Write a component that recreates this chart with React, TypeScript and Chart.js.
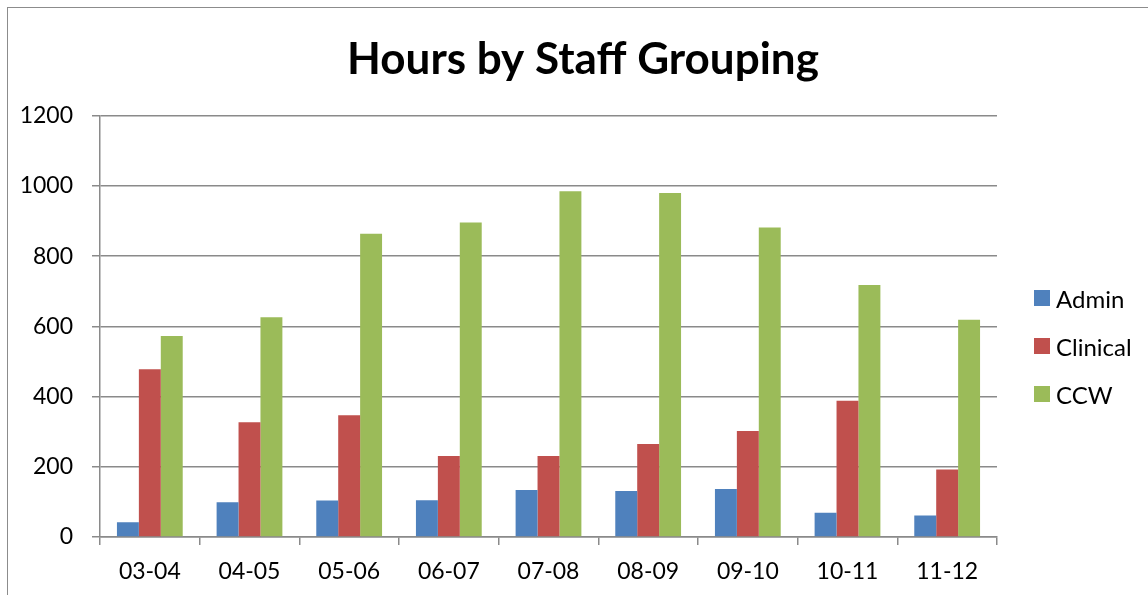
import React, { useEffect, useRef } from "react";
import { Chart, registerables } from "chart.js";

Chart.register(...registerables);

const categories = ["03-04", "04-05", "05-06", "06-07", "07-08", "08-09", "09-10", "10-11", "11-12"];
const adminValues = [42, 99, 104, 105, 134, 131, 137, 69, 61];
const clinicalValues = [478, 327, 347, 231, 231, 265, 302, 388, 192];
const ccwValues = [573, 626, 864, 896, 985, 980, 882, 718, 619];
const seriesNames = ["Admin", "Clinical", "CCW"];
const seriesColors = ["#4F81BD", "#C0504D", "#9BBB59"];
const yTicks = [0, 200, 400, 600, 800, 1000, 1200];

const FONT = "Lato, 'Noto Sans', sans-serif";

export default function App() {
  const ref = useRef<HTMLCanvasElement | null>(null);

  useEffect(() => {
    if (!ref.current) return;
    const values = [adminValues, clinicalValues, ccwValues];
    const chart = new Chart(ref.current, {
      type: "bar",
      data: {
        labels: categories,
        datasets: seriesNames.map((name, i) => ({
          label: name,
          data: values[i],
          backgroundColor: seriesColors[i],
          borderWidth: 0,
          categoryPercentage: 0.66,
          barPercentage: 1.0,
        })),
      },
      options: {
        animation: false,
        responsive: false,
        devicePixelRatio: 1,
        layout: { padding: { left: 10, right: 0, top: 0, bottom: 0 } },
        plugins: {
          legend: { display: false },
          tooltip: { enabled: false },
          title: {
            display: true,
            text: "Hours by Staff Grouping",
            color: "#000",
            font: { family: FONT, size: 44, weight: "bold" },
            padding: { top: 25, bottom: 30 },
          },
        },
        scales: {
          x: {
            afterFit: (s: any) => {
              s.height = 58;
            },
            grid: {
              display: true,
              drawOnChartArea: false,
              drawTicks: true,
              tickLength: 8,
              color: "#8a8a8a",
              lineWidth: 1.5,
            },
            border: { display: true, color: "#8a8a8a", width: 1.5 },
            ticks: {
              color: "#000",
              font: { family: FONT, size: 23 },
              padding: 13,
              maxRotation: 0,
            },
          },
          y: {
            min: 0,
            max: 1200,
            afterFit: (s: any) => {
              s.width = 82;
            },
            afterBuildTicks: (s: any) => {
              s.ticks = yTicks.map((v) => ({ value: v }));
            },
            grid: {
              color: "#8a8a8a",
              lineWidth: 1.5,
              tickLength: 8,
            },
            border: { display: true, color: "#8a8a8a", width: 1.5 },
            ticks: {
              color: "#000",
              font: { family: FONT, size: 23 },
              padding: 19,
              callback: (v: any) => String(v),
            },
          },
          legendSpace: {
            type: "linear",
            position: "right",
            display: true,
            afterFit: (s: any) => {
              s.width = 151;
            },
            grid: { display: false, drawOnChartArea: false, drawTicks: false },
            border: { display: false },
            ticks: { display: false },
          },
        },
      },
    });
    return () => chart.destroy();
  }, []);

  const legendTops = [282, 330, 378];

  return (
    <div
      style={{
        position: "fixed",
        left: 7,
        top: 7,
        width: 1141,
        height: 588,
        boxSizing: "border-box",
        borderLeft: "1px solid #8c8c8c",
        borderTop: "1px solid #8c8c8c",
        background: "#fff",
      }}
    >
      <div style={{ position: "relative", width: 1140, height: 587 }}>
        <canvas ref={ref} width={1140} height={587} style={{ display: "block" }} />
        {seriesNames.map((name, i) => (
          <div
            key={name}
            style={{
              position: "absolute",
              left: 1026,
              top: legendTops[i] - 5,
              height: 26,
              display: "flex",
              alignItems: "center",
              fontFamily: FONT,
              fontSize: 24,
              color: "#000",
              whiteSpace: "nowrap",
            }}
          >
            <span
              style={{
                display: "inline-block",
                width: 16,
                height: 16,
                background: seriesColors[i],
                marginRight: 6,
                flexShrink: 0,
              }}
            />
            {name}
          </div>
        ))}
      </div>
    </div>
  );
}
